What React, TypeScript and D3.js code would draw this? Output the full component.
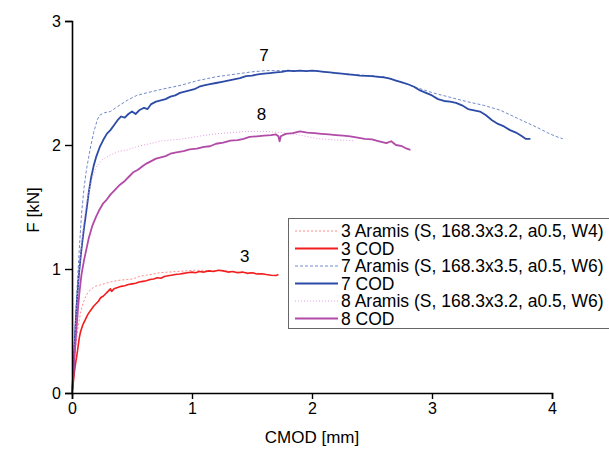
import React, { useEffect, useRef } from 'react';
import * as d3 from 'd3';

type Pt = [number, number];

// CMOD [mm], F [kN]
const cod3: Pt[] = [
  [0, 0], [0.01, 0.08], [0.02, 0.17], [0.03, 0.24], [0.04, 0.3], [0.05, 0.37], [0.06, 0.44],
  [0.07, 0.49], [0.09, 0.55], [0.11, 0.59], [0.13, 0.63], [0.15, 0.66], [0.18, 0.7], [0.2, 0.72],
  [0.22, 0.74], [0.24, 0.77], [0.26, 0.78], [0.28, 0.8], [0.3, 0.82], [0.32, 0.84], [0.33, 0.82],
  [0.35, 0.84], [0.38, 0.85], [0.41, 0.86], [0.44, 0.865], [0.47, 0.875], [0.5, 0.88], [0.53, 0.885],
  [0.56, 0.895], [0.59, 0.9], [0.62, 0.905], [0.65, 0.915], [0.68, 0.92], [0.71, 0.93], [0.74, 0.925],
  [0.77, 0.94], [0.8, 0.945], [0.83, 0.95], [0.86, 0.955], [0.9, 0.96], [0.93, 0.965], [0.96, 0.97],
  [1.0, 0.975], [1.03, 0.97], [1.06, 0.98], [1.1, 0.975], [1.14, 0.985], [1.18, 0.98], [1.22, 0.99],
  [1.26, 0.985], [1.3, 0.975], [1.34, 0.98], [1.38, 0.97], [1.42, 0.975], [1.46, 0.965], [1.5, 0.97],
  [1.54, 0.96], [1.58, 0.962], [1.62, 0.955], [1.66, 0.95], [1.7, 0.948], [1.72, 0.955],
];
const aramis3: Pt[] = [
  [0, 0], [0.015, 0.15], [0.025, 0.32], [0.04, 0.45], [0.05, 0.53], [0.07, 0.64], [0.09, 0.72],
  [0.12, 0.79], [0.15, 0.83], [0.19, 0.86], [0.23, 0.87], [0.28, 0.885], [0.34, 0.9], [0.4, 0.91],
  [0.46, 0.915], [0.51, 0.92], [0.56, 0.94], [0.62, 0.95], [0.68, 0.96], [0.73, 0.97], [0.8, 0.975],
  [0.88, 0.98], [0.95, 0.985], [1.01, 0.99], [1.08, 0.99], [1.16, 0.985], [1.24, 0.99], [1.32, 0.98],
  [1.4, 0.975], [1.48, 0.97], [1.56, 0.965], [1.6, 0.96],
];
const cod7: Pt[] = [
  [0, 0], [0.01, 0.15], [0.02, 0.35], [0.03, 0.55], [0.04, 0.72], [0.05, 0.86], [0.06, 0.98],
  [0.07, 1.08], [0.08, 1.17], [0.09, 1.25], [0.1, 1.33], [0.12, 1.47], [0.14, 1.62], [0.16, 1.74],
  [0.18, 1.83], [0.2, 1.9], [0.23, 1.98], [0.26, 2.04], [0.29, 2.09], [0.32, 2.12], [0.35, 2.16],
  [0.38, 2.2], [0.41, 2.23], [0.44, 2.22], [0.47, 2.25], [0.5, 2.27], [0.53, 2.25], [0.56, 2.28],
  [0.6, 2.3], [0.63, 2.29], [0.66, 2.33], [0.7, 2.35], [0.74, 2.36], [0.78, 2.37], [0.82, 2.39],
  [0.86, 2.4], [0.9, 2.42], [0.94, 2.43], [0.98, 2.44], [1.02, 2.45], [1.06, 2.47], [1.1, 2.48],
  [1.15, 2.49], [1.2, 2.5], [1.25, 2.51], [1.3, 2.52], [1.35, 2.53], [1.4, 2.54], [1.45, 2.555],
  [1.5, 2.56], [1.55, 2.57], [1.6, 2.575], [1.65, 2.58], [1.7, 2.585], [1.75, 2.59], [1.8, 2.6],
  [1.85, 2.595], [1.9, 2.6], [1.95, 2.595], [2.0, 2.6], [2.05, 2.595], [2.1, 2.59], [2.15, 2.585],
  [2.2, 2.58], [2.25, 2.575], [2.3, 2.57], [2.35, 2.565], [2.4, 2.56], [2.45, 2.558], [2.5, 2.555],
  [2.55, 2.55], [2.6, 2.545], [2.65, 2.535], [2.7, 2.52], [2.75, 2.505], [2.8, 2.49], [2.85, 2.47],
  [2.9, 2.44], [2.95, 2.42], [3.0, 2.4], [3.05, 2.37], [3.1, 2.355], [3.15, 2.35], [3.2, 2.34],
  [3.25, 2.32], [3.3, 2.29], [3.35, 2.28], [3.4, 2.27], [3.45, 2.24], [3.5, 2.2], [3.55, 2.17],
  [3.6, 2.15], [3.65, 2.12], [3.7, 2.1], [3.75, 2.07], [3.78, 2.05], [3.82, 2.05],
];
const aramis7: Pt[] = [
  [0, 0], [0.02, 0.4], [0.04, 0.8], [0.06, 1.15], [0.08, 1.45], [0.1, 1.65], [0.12, 1.8],
  [0.15, 1.96], [0.18, 2.1], [0.21, 2.2], [0.23, 2.24], [0.27, 2.26], [0.32, 2.27], [0.38, 2.31],
  [0.46, 2.36], [0.54, 2.4], [0.62, 2.42], [0.75, 2.45], [0.9, 2.48], [1.05, 2.52], [1.2, 2.55],
  [1.35, 2.57], [1.5, 2.59], [1.62, 2.6], [1.8, 2.6], [2.0, 2.6], [2.2, 2.58], [2.4, 2.565],
  [2.6, 2.55], [2.73, 2.51], [2.85, 2.47], [3.01, 2.42], [3.15, 2.385], [3.29, 2.35], [3.43, 2.32],
  [3.57, 2.28], [3.68, 2.23], [3.79, 2.18], [3.88, 2.14], [3.96, 2.1], [4.03, 2.07], [4.09, 2.05],
];
const cod8: Pt[] = [
  [0, 0], [0.01, 0.12], [0.02, 0.28], [0.03, 0.42], [0.04, 0.55], [0.05, 0.68], [0.06, 0.79],
  [0.07, 0.88], [0.08, 0.96], [0.1, 1.07], [0.12, 1.16], [0.14, 1.25], [0.17, 1.35], [0.2, 1.42],
  [0.23, 1.48], [0.26, 1.53], [0.29, 1.56], [0.32, 1.6], [0.36, 1.64], [0.4, 1.68], [0.44, 1.71],
  [0.48, 1.75], [0.51, 1.78], [0.55, 1.8], [0.59, 1.83], [0.62, 1.85], [0.66, 1.87], [0.7, 1.89],
  [0.74, 1.9], [0.78, 1.91], [0.82, 1.93], [0.87, 1.94], [0.93, 1.95], [0.98, 1.965], [1.04, 1.97],
  [1.1, 1.985], [1.15, 1.99], [1.2, 2.01], [1.26, 2.02], [1.32, 2.035], [1.38, 2.04], [1.43, 2.05],
  [1.48, 2.065], [1.54, 2.07], [1.6, 2.075], [1.66, 2.08], [1.7, 2.085], [1.72, 2.07], [1.73, 2.03],
  [1.74, 2.07], [1.78, 2.09], [1.84, 2.095], [1.9, 2.11], [1.96, 2.1], [2.02, 2.095], [2.08, 2.09],
  [2.14, 2.085], [2.2, 2.08], [2.26, 2.075], [2.32, 2.07], [2.38, 2.06], [2.44, 2.05], [2.5, 2.045],
  [2.56, 2.03], [2.62, 2.015], [2.66, 2.03], [2.7, 2.0], [2.75, 1.99], [2.79, 1.97], [2.82, 1.96],
];
const aramis8: Pt[] = [
  [0, 0], [0.02, 0.35], [0.04, 0.7], [0.06, 1.0], [0.08, 1.2], [0.1, 1.38], [0.12, 1.52],
  [0.14, 1.62], [0.17, 1.74], [0.2, 1.82], [0.25, 1.88], [0.32, 1.92], [0.4, 1.95], [0.46, 1.96],
  [0.55, 1.99], [0.65, 2.01], [0.73, 2.03], [0.82, 2.04], [0.93, 2.05], [1.05, 2.07], [1.2, 2.09],
  [1.33, 2.1], [1.46, 2.11], [1.6, 2.11], [1.75, 2.1], [1.9, 2.08], [2.05, 2.05], [2.2, 2.04],
  [2.35, 2.035],
];

const xTicks = [0, 1, 2, 3, 4];
const yTicks = [0, 1, 2, 3];

const series = [
  { name: '3 Aramis (S, 168.3x3.2, a0.5, W4)', data: aramis3, color: '#ff8a8a', width: 1, dash: '2,2' },
  { name: '3 COD', data: cod3, color: '#f21d1d', width: 1.6, dash: null },
  { name: '7 Aramis (S, 168.3x3.5, a0.5, W6)', data: aramis7, color: '#7388cc', width: 1, dash: '3,2' },
  { name: '7 COD', data: cod7, color: '#2c4ba6', width: 1.8, dash: null },
  { name: '8 Aramis (S, 168.3x3.2, a0.5, W6)', data: aramis8, color: '#e79ce0', width: 1, dash: '1,2' },
  { name: '8 COD', data: cod8, color: '#b24aa7', width: 1.8, dash: null },
];

const curveLabels = [
  { text: '7', x: 1.6, y: 2.68 },
  { text: '8', x: 1.58, y: 2.2 },
  { text: '3', x: 1.44, y: 1.06 },
];

const App: React.FC = () => {
  const svgRef = useRef<SVGSVGElement>(null);

  useEffect(() => {
    if (!svgRef.current) return;
    const svg = d3.select(svgRef.current);
    svg.selectAll('*').remove();

    const font = '"Liberation Sans", Arial, sans-serif';
    const x = d3.scaleLinear().domain([0, 4]).range([72, 552]);
    const y = d3.scaleLinear().domain([0, 3]).range([393, 21]);

    const line = d3
      .line<Pt>()
      .x((d) => x(d[0]))
      .y((d) => y(d[1]));

    const g = svg.append('g');

    // Curves
    series.forEach((s) => {
      g.append('path')
        .attr('d', line(s.data))
        .attr('fill', 'none')
        .attr('stroke', s.color)
        .attr('stroke-width', s.width)
        .attr('stroke-linejoin', 'round')
        .attr('stroke-dasharray', s.dash);
    });

    // Axes
    const xAxis = d3.axisBottom(x).tickValues(xTicks).tickSize(6).tickPadding(4).tickFormat(d3.format('d'));
    const xMinor = d3.axisBottom(x).tickValues([0.5, 1.5, 2.5, 3.5]).tickSize(3).tickFormat(() => '');
    const yAxis = d3.axisLeft(y).tickValues(yTicks).tickSize(7).tickPadding(4).tickFormat(d3.format('d'));
    const yMinor = d3.axisLeft(y).tickValues([0.5, 1.5, 2.5]).tickSize(4).tickFormat(() => '');

    const gx = g.append('g').attr('transform', 'translate(0,393)');
    gx.call(xMinor);
    gx.call(xAxis);
    const gy = g.append('g').attr('transform', 'translate(72,0)');
    gy.call(yMinor);
    gy.call(yAxis);

    [gx, gy].forEach((a) => {
      a.selectAll('path.domain').attr('stroke', '#000').attr('stroke-width', 1.6);
      a.selectAll('line').attr('stroke', '#000').attr('stroke-width', 1.4);
      a.selectAll('text').attr('font-family', font).attr('font-size', 16).attr('fill', '#000');
    });

    // Axis titles
    g.append('text')
      .attr('x', 312)
      .attr('y', 443)
      .attr('text-anchor', 'middle')
      .attr('font-family', font)
      .attr('font-size', 17)
      .text('CMOD [mm]');
    g.append('text')
      .attr('transform', 'translate(39,210) rotate(-90)')
      .attr('text-anchor', 'middle')
      .attr('font-family', font)
      .attr('font-size', 17)
      .text('F [kN]');

    // Curve labels
    curveLabels.forEach((l) => {
      g.append('text')
        .attr('x', x(l.x))
        .attr('y', y(l.y))
        .attr('text-anchor', 'middle')
        .attr('font-family', font)
        .attr('font-size', 17)
        .text(l.text);
    });

    // Legend
    const lg = g.append('g').attr('transform', 'translate(288,218)');
    lg.append('rect')
      .attr('x', 0.5)
      .attr('y', 0.5)
      .attr('width', 340)
      .attr('height', 110)
      .attr('fill', '#fff')
      .attr('stroke', '#666')
      .attr('stroke-width', 1);
    series.forEach((s, i) => {
      const cy = 13 + i * 17.5;
      lg.append('line')
        .attr('x1', 7)
        .attr('x2', 50)
        .attr('y1', cy)
        .attr('y2', cy)
        .attr('stroke', s.color)
        .attr('stroke-width', s.dash ? 1 : 2)
        .attr('stroke-dasharray', s.dash);
      lg.append('text')
        .attr('x', 53)
        .attr('y', cy)
        .attr('dy', '0.35em')
        .attr('font-family', font)
        .attr('font-size', 17.5)
        .attr('fill', '#000')
        .text(s.name);
    });
  }, []);

  return (
    <svg
      ref={svgRef}
      width={609}
      height={449}
      style={{ position: 'absolute', left: 0, top: 0, background: '#fff' }}
    />
  );
};

export default App;
